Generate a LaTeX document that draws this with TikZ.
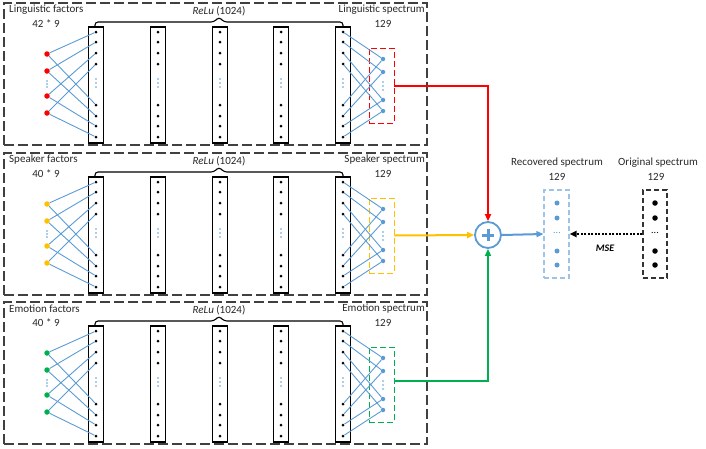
\documentclass[tikz,border=0pt]{standalone}
\usepackage{fontspec}
\setmainfont{Carlito}
\usetikzlibrary{arrows.meta,calc}
\definecolor{lblue}{RGB}{91,155,213}
\definecolor{pblue}{RGB}{157,195,230}
\definecolor{cred}{RGB}{255,0,0}
\definecolor{cyel}{RGB}{255,192,0}
\definecolor{cgrn}{RGB}{0,176,80}
\definecolor{txt}{RGB}{40,40,40}
\tikzset{
  panel/.style={draw=black!75, line width=1.1pt, dash pattern=on 10pt off 4pt, inner sep=0pt},
  colbox/.style={draw=black, line width=1.1pt, inner sep=0pt, minimum width=15pt, minimum height=116pt},
  bdot/.style={circle, fill=black, inner sep=0pt, minimum size=3pt},
  indot/.style={circle, fill=#1, inner sep=0pt, minimum size=5.5pt},
  odot/.style={circle, fill=lblue, inner sep=0pt, minimum size=4.5pt},
  edot/.style={circle, fill=lblue, inner sep=0pt, minimum size=1.6pt},
  conn/.style={lblue, line width=0.9pt},
  outbox/.style={draw=#1, line width=0.9pt, dash pattern=on 6pt off 3pt, inner sep=0pt, minimum width=25pt, minimum height=75pt},
  lbl/.style={text=txt, font=\fontsize{11}{13}\selectfont, inner sep=0pt},
  feed/.style={line width=2pt, -{Triangle[length=7pt,width=6pt]}},
  brc/.style={black, line width=1.1pt, rounded corners=3pt},
}
\begin{document}
\begin{tikzpicture}[x=1pt,y=-1pt]
\useasboundingbox (0,0) rectangle (706,448);
\foreach \p/\oy/\nm/\cnt/\col in {1/0/Linguistic/42/cred, 2/150/Speaker/40/cyel, 3/299/Emotion/40/cgrn}{
  % panel frame
  \node[panel, minimum width=423pt, minimum height=142pt] (panel\p) at (215.5,{\oy+74}) {};
  % labels
  \node[lbl, anchor=west] (fac\p) at (9,{\oy+10}) {\nm{} factors};
  \node[lbl] (cnt\p) at (46,{\oy+24}) {\cnt{} * 9};
  \node[lbl, anchor=east] (spec\p) at (425,{\oy+10}) {\nm{} spectrum};
  \node[lbl] (num\p) at (383,{\oy+24}) {129};
  \node[lbl] (relu\p) at (219,{\oy+11}) {\textit{ReLu} (1024)};
  % columns
  \foreach \c/\cx in {1/96,2/158,3/220,4/281,5/343}{
    \node[colbox] (col\p-\c) at (\cx,{\oy+85}) {};
    \foreach \k/\yy in {1/32,2/42,3/53,4/64,5/105,6/116,7/126,8/137}{
      \node[bdot] (d\p-\c-\k) at (\cx,{\oy+\yy}) {};
    }
    \foreach \e/\yy in {1/79,2/83,3/87}{
      \node[edot] (ce\p-\c-\e) at (\cx,{\oy+\yy}) {};
    }
  }
  % brace
  \coordinate (bl\p) at (95,{\oy+27});
  \coordinate (br\p) at (343,{\oy+27});
  \draw[brc] (bl\p) -- (95,{\oy+22}) -- (214,{\oy+22}) -- (219,{\oy+17}) -- (224,{\oy+22}) -- (343,{\oy+22}) -- (br\p);
  % inputs
  \foreach \i/\yy in {1/54,2/71,3/96,4/113}{
    \node[indot=\col] (in\p-\i) at (47,{\oy+\yy}) {};
  }
  \foreach \e/\yy in {1/81,2/84,3/87}{
    \node[edot] (ie\p-\e) at (47,{\oy+\yy}) {};
  }
  % output box and nodes
  \node[outbox=\col] (ob\p) at (381.5,{\oy+85.5}) {};
  \foreach \i/\yy in {1/59,2/72,3/100,4/111}{
    \node[odot] (out\p-\i) at (383,{\oy+\yy}) {};
  }
  \foreach \e/\yy in {1/82,2/86,3/90}{
    \node[edot] (oe\p-\e) at (383,{\oy+\yy}) {};
  }
  % connections
  \foreach \i in {1,2,3,4}{
    \pgfmathtruncatemacro{\j}{\i+4}
    \draw[conn] (in\p-\i) -- (d\p-1-\i);
    \draw[conn] (in\p-\i) -- (d\p-1-\j);
    \draw[conn] (d\p-5-\i) -- (out\p-\i);
    \draw[conn] (d\p-5-\j) -- (out\p-\i);
  }
}
% sum node
\node[circle, draw=lblue, line width=1.8pt, fill=white, minimum size=26pt, inner sep=0pt] (sum) at (488,235) {};
\draw[lblue, line width=3pt] ($(sum.center)+(-6,0)$) -- ($(sum.center)+(6,0)$);
\draw[lblue, line width=3pt] ($(sum.center)+(0,-6)$) -- ($(sum.center)+(0,6)$);
% feeds
\draw[feed, cred] (ob1.east) -| (sum.north);
\draw[feed, cyel] (ob2.east) -- (sum.west);
\draw[feed, cgrn] ($(ob3.east)+(0,-4)$) -| (sum.south);
% recovered spectrum
\node[draw=pblue, line width=1.1pt, dash pattern=on 5pt off 3pt, minimum width=25pt, minimum height=88pt, inner sep=0pt] (rec) at (556.5,234) {};
\foreach \i/\yy in {1/203,2/218,3/251,4/265}{
  \node[circle, fill=lblue, inner sep=0pt, minimum size=5pt] (r\i) at (557,\yy) {};
}
\node[text=lblue, inner sep=0pt, font=\fontsize{10}{12}\selectfont] (rdots) at (557,233) {...};
\node[lbl] (rect) at (557,163) {Recovered spectrum};
\node[lbl] (recn) at (557,177) {129};
% original spectrum
\node[draw=black!80, line width=1.1pt, dash pattern=on 5pt off 3pt, minimum width=24pt, minimum height=88pt, inner sep=0pt] (org) at (655,234) {};
\foreach \i/\yy in {1/203,2/218,3/251,4/265}{
  \node[circle, fill=black, inner sep=0pt, minimum size=5.5pt] (o\i) at (655,\yy) {};
}
\node[text=black, inner sep=0pt, font=\fontsize{10}{12}\selectfont] (odots) at (655,233) {...};
\node[lbl] (orgt) at (658,163) {Original spectrum};
\node[lbl] (orgn) at (656,177) {129};
% arrows
\draw[lblue, line width=2pt, -{Triangle[length=7pt,width=6pt]}] (sum.east) -- (rec.west);
\draw[black, line width=1.8pt, dash pattern=on 2pt off 1.5pt, -{Triangle[length=7pt,width=6pt]}] (org.west) -- (rec.east);
\node[text=black, inner sep=0pt, font=\fontsize{10}{12}\selectfont\bfseries\itshape] (mse) at (605,248) {MSE};
\end{tikzpicture}
\end{document}
